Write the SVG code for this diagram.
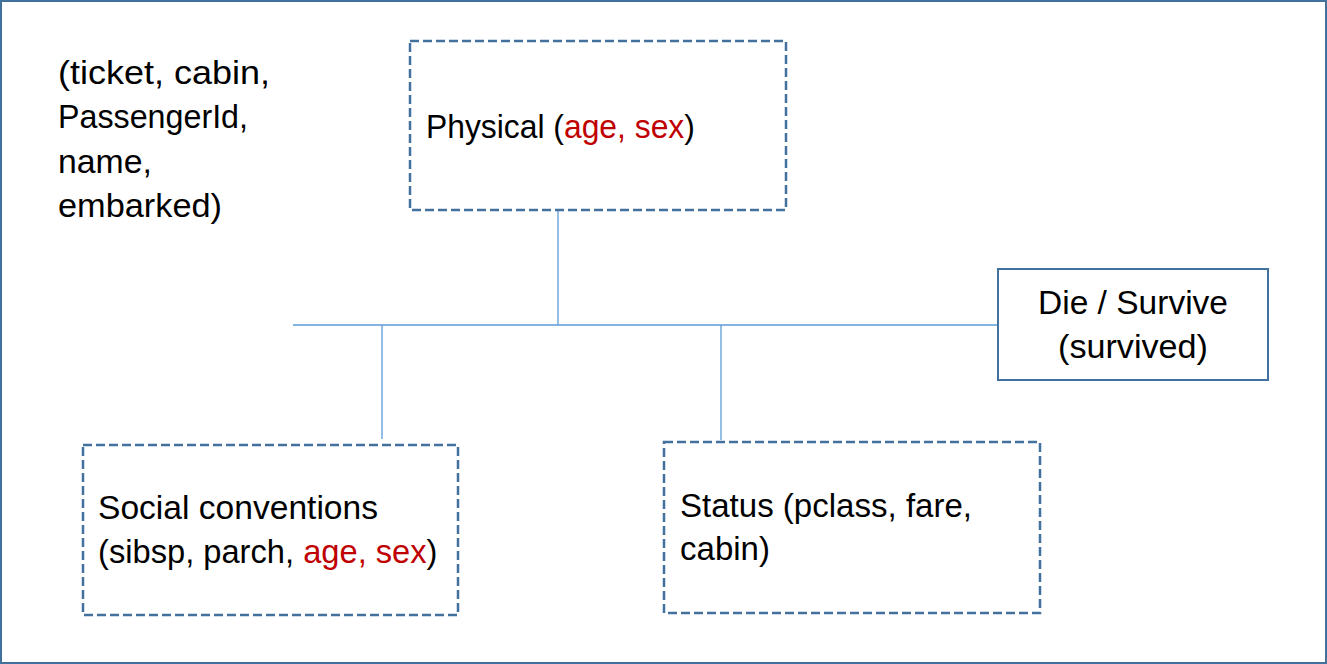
<svg xmlns="http://www.w3.org/2000/svg" width="1327" height="664" viewBox="0 0 1327 664">
<style>
.t{font-family:"Liberation Sans",Arial,sans-serif;font-size:33px;fill:#000}
.r{fill:#C00000}
.dash{fill:#fff;stroke:#41719C;stroke-width:2.5;stroke-dasharray:9 4}
.solid{fill:#fff;stroke:#41719C;stroke-width:2}
.conn{stroke:#5B9BD5;stroke-width:1.3;fill:none}
</style>
<rect x="0" y="0" width="1327" height="664" fill="#fff"/>
<rect x="1" y="1" width="1325" height="662" fill="none" stroke="#41719C" stroke-width="2"/>
<g id="connectors">
<line class="conn" x1="293" y1="325" x2="998" y2="325"/>
<line class="conn" x1="558" y1="210" x2="558" y2="325"/>
<line class="conn" x1="382" y1="325" x2="382" y2="439"/>
<line class="conn" x1="721" y1="325" x2="721" y2="440"/>
</g>
<g id="unused-fields">
<text class="t" x="58" y="84" textLength="212" lengthAdjust="spacingAndGlyphs">(ticket, cabin,</text>
<text class="t" x="58" y="128" textLength="190" lengthAdjust="spacingAndGlyphs">PassengerId,</text>
<text class="t" x="58" y="173" textLength="94" lengthAdjust="spacingAndGlyphs">name,</text>
<text class="t" x="58" y="217" textLength="164" lengthAdjust="spacingAndGlyphs">embarked)</text>
</g>
<g id="physical">
<rect class="dash" x="410" y="41" width="376" height="169"/>
<text class="t" transform="translate(426,138) scale(0.965,1)">Physical (<tspan class="r">age, sex</tspan>)</text>
</g>
<g id="survive">
<rect class="solid" x="998" y="269" width="270" height="111"/>
<text class="t" x="1133" y="314" text-anchor="middle" textLength="190" lengthAdjust="spacingAndGlyphs">Die / Survive</text>
<text class="t" x="1133" y="358" text-anchor="middle" textLength="150" lengthAdjust="spacingAndGlyphs">(survived)</text>
</g>
<g id="social">
<rect class="dash" x="83" y="445" width="375" height="170"/>
<text class="t" x="98" y="519" textLength="280" lengthAdjust="spacingAndGlyphs">Social conventions</text>
<text class="t" transform="translate(98,563) scale(0.99,1)">(sibsp, parch, <tspan class="r">age, sex</tspan>)</text>
</g>
<g id="status">
<rect class="dash" x="664" y="442" width="376" height="171"/>
<text class="t" x="680" y="517" textLength="292" lengthAdjust="spacingAndGlyphs">Status (pclass, fare,</text>
<text class="t" x="680" y="560" textLength="90" lengthAdjust="spacingAndGlyphs">cabin)</text>
</g>
</svg>
